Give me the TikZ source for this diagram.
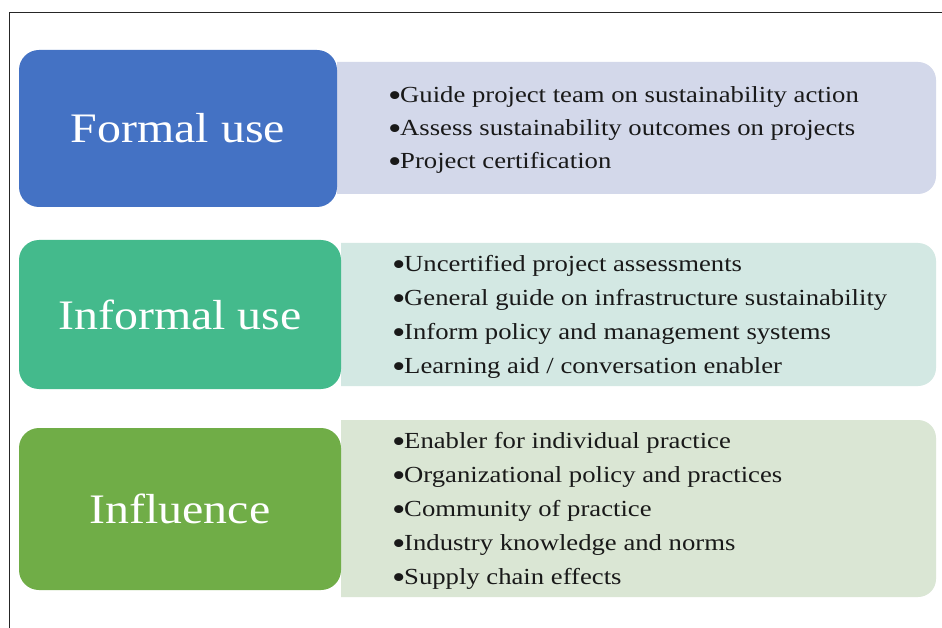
\documentclass[tikz,border=0pt]{standalone}
\usepackage{fontspec}
\setmainfont[FakeStretch=1.14]{Liberation Serif}
\newfontfamily\listfont[FakeStretch=1.16]{Liberation Serif}
\newcommand\bul{\makebox[12pt][l]{\raisebox{-4pt}{\fontsize{33}{33}\selectfont\textbullet}}}
\definecolor{boxA}{RGB}{68,114,196}
\definecolor{boxB}{RGB}{68,186,140}
\definecolor{boxC}{RGB}{112,173,71}
\definecolor{panA}{RGB}{211,216,234}
\definecolor{panB}{RGB}{211,232,227}
\definecolor{panC}{RGB}{218,230,212}
\definecolor{txt}{RGB}{25,25,25}
\tikzset{
  bigbox/.style={rounded corners=20pt, inner sep=0pt, text=white,
    font=\fontsize{42}{48}\selectfont},
  listtext/.style={anchor=west, inner sep=0pt, align=left, text=txt},
  framerule/.style={draw=black!85, line width=0.9pt}
}
\begin{document}
\begin{tikzpicture}[x=1pt,y=-1pt]
\useasboundingbox (0,0) rectangle (942,628);
\fill[white] (0,0) rectangle (942,628);
% frame
\coordinate (ftr) at (942,12);
\coordinate (ftl) at (9,12);
\coordinate (fbl) at (9,628);
\draw[framerule] (ftr) -- (ftl) -- (fbl);
% panels
\fill[panA] (337,62) [rounded corners=18pt] -- (936,62) -- (936,194) [sharp corners] -- (337,194) -- cycle;
\fill[panB] (341,243) [rounded corners=18pt] -- (936,243) -- (936,386) [sharp corners] -- (341,386) -- cycle;
\fill[panC] (341,420) [rounded corners=18pt] -- (936,420) -- (936,597) [sharp corners] -- (341,597) -- cycle;
% boxes
\node[bigbox, fill=boxA, minimum width=318pt, minimum height=157pt] (formal) at (178,128.5) {Formal use};
\node[bigbox, fill=boxB, minimum width=322pt, minimum height=149pt] (informal) at (180,314.5) {Informal use};
\node[bigbox, fill=boxC, minimum width=322pt, minimum height=162pt] (influence) at (180,509) {Influence};
% lists
\node[listtext, font=\listfont\fontsize{23}{33}\selectfont] (listA) at (388,130) {\bul Guide project team on sustainability action\\
\bul Assess sustainability outcomes on projects\\
\bul Project certification};
\node[listtext, font=\listfont\fontsize{23}{34}\selectfont] (listB) at (392,317) {\bul Uncertified project assessments\\
\bul General guide on infrastructure sustainability\\
\bul Inform policy and management systems\\
\bul Learning aid / conversation enabler};
\node[listtext, font=\listfont\fontsize{23}{34}\selectfont] (listC) at (392,511) {\bul Enabler for individual practice\\
\bul Organizational policy and practices\\
\bul Community of practice\\
\bul Industry knowledge and norms\\
\bul Supply chain effects};
\end{tikzpicture}
\end{document}
